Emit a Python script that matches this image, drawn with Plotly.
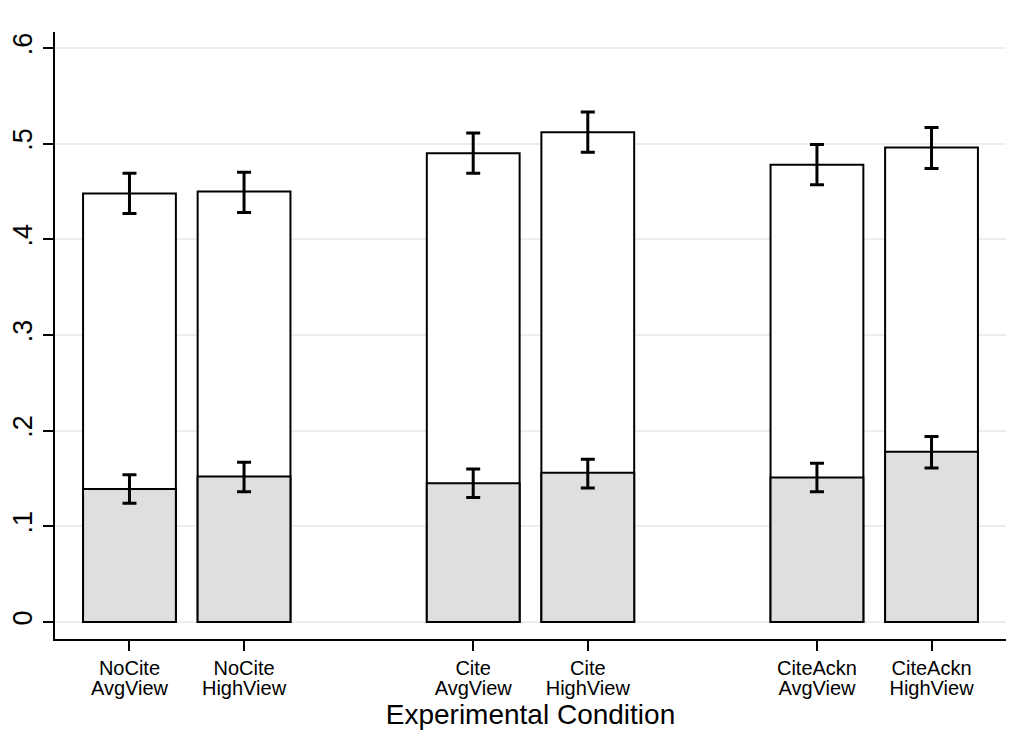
import plotly.graph_objects as go

# Data
cond_line1 = ["NoCite", "NoCite", "Cite", "Cite", "CiteAckn", "CiteAckn"]
cond_line2 = ["AvgView", "HighView", "AvgView", "HighView", "AvgView", "HighView"]
positions = [1, 2, 4, 5, 7, 8]

total = [0.448, 0.450, 0.490, 0.512, 0.478, 0.496]
total_hi = [0.469, 0.470, 0.511, 0.533, 0.499, 0.517]
total_lo = [0.427, 0.428, 0.469, 0.491, 0.457, 0.474]

base = [0.139, 0.152, 0.145, 0.156, 0.151, 0.178]
base_hi = [0.154, 0.167, 0.160, 0.170, 0.166, 0.194]
base_lo = [0.124, 0.136, 0.130, 0.140, 0.136, 0.161]

ytick_vals = [0, 0.1, 0.2, 0.3, 0.4, 0.5, 0.6]
ytick_text = ["0", ".1", ".2", ".3", ".4", ".5", ".6"]

FONT = "Liberation Sans, Arial, Helvetica, sans-serif"
XRANGE = [0.35, 8.65]

fig = go.Figure()
fig.add_trace(go.Bar(
    x=positions, y=total, width=0.81,
    marker=dict(color="white", line=dict(color="black", width=2)),
    error_y=dict(type="data", symmetric=False,
                 array=[h - v for h, v in zip(total_hi, total)],
                 arrayminus=[v - l for v, l in zip(total, total_lo)],
                 color="black", thickness=3, width=7),
    showlegend=False, hoverinfo="skip",
))
fig.add_trace(go.Bar(
    x=positions, y=base, width=0.81,
    marker=dict(color="#dfdfdf", line=dict(color="black", width=2)),
    error_y=dict(type="data", symmetric=False,
                 array=[h - v for h, v in zip(base_hi, base)],
                 arrayminus=[v - l for v, l in zip(base, base_lo)],
                 color="black", thickness=3, width=7),
    showlegend=False, hoverinfo="skip",
))
# invisible carrier trace so the second label row (xaxis2) is rendered
fig.add_trace(go.Scatter(
    x=positions, y=total, xaxis="x2", yaxis="y", mode="none",
    showlegend=False, hoverinfo="skip",
))

fig.update_layout(
    width=1026, height=744,
    margin=dict(l=55, r=20, t=32, b=105),
    barmode="overlay",
    plot_bgcolor="white", paper_bgcolor="white",
    font=dict(family=FONT, color="black"),
    xaxis=dict(
        range=XRANGE, tickmode="array", tickvals=positions, ticktext=cond_line1,
        showline=True, linecolor="black", linewidth=1.5,
        ticks="outside", ticklen=10, tickwidth=1.5, tickcolor="black",
        showgrid=False, zeroline=False, automargin=False,
        tickfont=dict(size=20, family=FONT),
    ),
    xaxis2=dict(
        overlaying="x", anchor="y", side="bottom",
        range=XRANGE, tickmode="array", tickvals=positions, ticktext=cond_line2,
        showline=False, ticks="", showgrid=False, zeroline=False, automargin=False,
        tickfont=dict(size=20, family=FONT),
        ticklabelstandoff=35,
        title=dict(text="Experimental Condition", font=dict(size=28, family=FONT), standoff=0),
    ),
    yaxis=dict(
        range=[-0.0178, 0.6167], tickmode="array", tickvals=ytick_vals, ticktext=ytick_text,
        showline=True, linecolor="black", linewidth=1.5,
        ticks="outside", ticklen=10, tickwidth=1.5, tickcolor="black",
        showgrid=True, gridcolor="#ededed", gridwidth=2, zeroline=False,
        automargin=False, tickangle=-90,
        tickfont=dict(size=27, family=FONT),
    ),
)

fig.write_html("out.html")
